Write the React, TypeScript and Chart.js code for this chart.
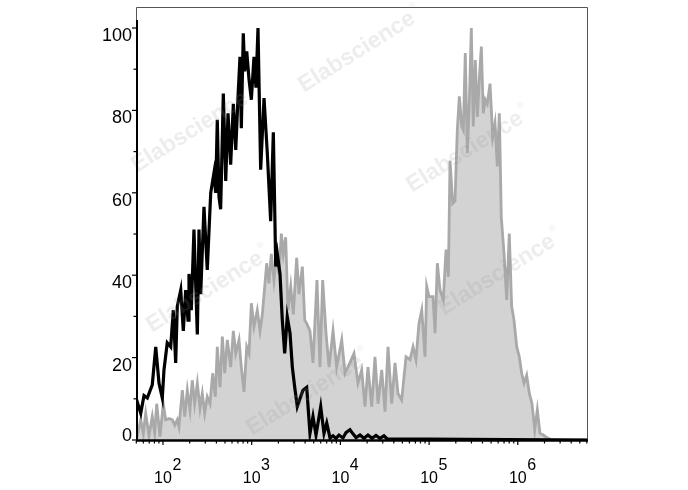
import React, { useEffect, useRef } from "react";
import { Chart, registerables } from "chart.js";

Chart.register(...registerables);

// x positions are log10(fluorescence intensity)
const blackLogX = [
  1.692, 1.749, 1.786, 1.823, 1.879, 1.918, 1.955, 1.992, 2.011, 2.048,
  2.087, 2.116, 2.143, 2.161, 2.2, 2.229, 2.256, 2.282, 2.293, 2.319,
  2.349, 2.387, 2.406, 2.425, 2.462, 2.499, 2.538, 2.575, 2.594, 2.612,
  2.631, 2.65, 2.68, 2.707, 2.733, 2.763, 2.793, 2.82, 2.846, 2.868,
  2.883, 2.905, 2.921, 2.944, 2.97, 2.996, 3.026, 3.048, 3.071, 3.101,
  3.139, 3.176, 3.214, 3.244, 3.271, 3.289, 3.319, 3.345, 3.372, 3.401,
  3.432, 3.458, 3.485, 3.514, 3.552, 3.578, 3.62, 3.657, 3.691, 3.725,
  3.778, 3.815, 3.846, 3.883, 3.917, 3.95, 3.984, 4.029, 4.063, 4.108,
  4.142, 4.176, 4.221, 4.266, 4.311, 4.356, 4.401, 4.446, 4.491, 4.525,
  6.791,
];
const blackY = [
  10.5, 6.5, 10.8, 10.2, 13.4, 22.6, 13.8, 10.2, 17.0, 23.6,
  22.6, 31.5, 18.7, 32.4, 36.4, 26.5, 36.4, 29.1, 40.3, 31.5,
  51.1, 25.6, 51.1, 35.4, 56.6, 41.3, 60.0, 64.9, 60.0, 77.7,
  59.0, 56.0, 84.1, 62.9, 79.3, 66.8, 81.6, 70.4, 83.4, 93.0,
  75.7, 98.7, 89.5, 94.3, 87.5, 82.6, 93.0, 85.5, 100, 65.6,
  83.0, 69.6, 53.1, 74.7, 42.1, 45.2, 40.3, 29.1, 21.0, 29.9,
  25.9, 17.7, 12.8, 8.1, 10.5, 12.1, 12.8, 1.6, 5.7, 1.2,
  8.1, 1.6, 4.1, 0.5, 1.0, 0.4, 1.2, 0.5, 1.8, 2.5,
  1.5, 0.6, 1.2, 0.4, 1.2, 0.4, 1.1, 0.4, 1.0, 0.3,
  0,
];

const grayLogX = [
  1.71, 1.749, 1.778, 1.805, 1.842, 1.879, 1.906, 1.929, 1.966, 2.003,
  2.03, 2.068, 2.105, 2.132, 2.161, 2.18, 2.218, 2.245, 2.274, 2.304,
  2.33, 2.357, 2.387, 2.417, 2.443, 2.47, 2.499, 2.53, 2.56, 2.59,
  2.612, 2.643, 2.669, 2.696, 2.725, 2.763, 2.793, 2.82, 2.857, 2.883,
  2.913, 2.944, 2.97, 2.996, 3.026, 3.063, 3.094, 3.12, 3.147, 3.169,
  3.195, 3.221, 3.251, 3.282, 3.308, 3.334, 3.356, 3.383, 3.409, 3.44,
  3.469, 3.507, 3.533, 3.571, 3.598, 3.62, 3.657, 3.691, 3.736, 3.77,
  3.8, 3.838, 3.872, 3.917, 3.958, 4.015, 4.052, 4.086, 4.153, 4.198,
  4.24, 4.277, 4.311, 4.353, 4.39, 4.424, 4.466, 4.503, 4.537, 4.578,
  4.616, 4.649, 4.691, 4.74, 4.785, 4.819, 4.852, 4.886, 4.917, 4.954,
  4.973, 4.999, 5.044, 5.067, 5.093, 5.123, 5.16, 5.191, 5.217, 5.236,
  5.266, 5.292, 5.318, 5.341, 5.368, 5.386, 5.408, 5.431, 5.453, 5.476,
  5.498, 5.521, 5.544, 5.566, 5.589, 5.611, 5.634, 5.656, 5.687, 5.717,
  5.743, 5.769, 5.792, 5.814, 5.845, 5.875, 5.904, 5.931, 5.957, 5.988,
  6.017, 6.044, 6.07, 6.1, 6.13, 6.16, 6.191, 6.22, 6.25, 6.288,
  6.326, 6.382, 6.791,
];
const grayY = [
  0.8, 4.9, 1.6, 6.5, 1.0, 5.7, 1.7, 8.8, 0.8, 8.8,
  4.9, 5.2, 4.9, 3.6, 4.9, 3.2, 12.1, 5.7, 12.1, 7.3,
  14.5, 8.8, 13.8, 7.7, 11.3, 6.5, 10.5, 8.8, 16.2, 10.5,
  22.6, 12.8, 25.1, 16.2, 24.3, 17.7, 26.5, 21.0, 24.3, 17.7,
  11.7, 22.6, 21.0, 33.2, 27.5, 31.5, 26.5, 30.5, 37.3, 42.9,
  38.0, 45.2, 38.8, 45.2, 40.3, 50.1, 45.2, 49.2, 31.5, 37.3,
  30.5, 44.2, 35.4, 42.1, 29.1, 28.3, 26.5, 18.7, 38.8, 17.7,
  38.8, 25.9, 17.7, 26.5, 17.7, 24.3, 16.2, 17.7, 21.0, 13.8,
  17.0, 8.1, 17.7, 8.1, 20.2, 8.8, 17.0, 6.9, 22.6, 8.8,
  18.7, 11.3, 9.7, 20.2, 19.5, 22.6, 19.5, 28.3, 31.5, 20.2,
  37.3, 34.8, 34.8, 25.9, 42.9, 36.4, 34.0, 46.2, 39.6, 67.8,
  57.4, 58.0, 75.2, 83.4, 76.1, 75.2, 93.9, 69.6, 81.6, 100,
  76.1, 92.2, 78.4, 87.4, 95.5, 79.3, 82.6, 81.6, 86.5, 73.6,
  76.9, 66.4, 79.3, 54.1, 45.2, 34.0, 50.1, 32.4, 29.1, 22.6,
  20.2, 16.2, 13.8, 15.7, 11.3, 8.8, 2.5, 7.3, 1.6, 1.2,
  0.6, 0, 0,
];

const xMinLog = 1.6956;
const xMaxLog = 6.7915;
const yMax = 105.1;
const yMajorTicks = [0, 20, 40, 60, 80, 100];
const yMinorTicks = [10, 30, 50, 70, 90];
const xDecades = [2, 3, 4, 5, 6];

const FONT = '"Liberation Sans", Arial, Helvetica, sans-serif';

const framePlugin = {
  id: "frame",
  afterDraw(chart: any) {
    const { ctx, chartArea, scales } = chart;
    const { left, right, top, bottom } = chartArea;
    const xs = scales.x;
    const ys = scales.y;
    ctx.save();

    // watermark
    const marks = [
      [357, 52],
      [190, 132],
      [465, 152],
      [205, 292],
      [497, 275],
      [305, 395],
    ];
    ctx.fillStyle = "rgba(150,150,150,0.17)";
    for (const [cx, cy] of marks) {
      ctx.save();
      ctx.translate(cx, cy);
      ctx.rotate(-0.56);
      ctx.font = `bold 23px ${FONT}`;
      ctx.textAlign = "center";
      ctx.textBaseline = "middle";
      ctx.fillText("Elabscience", 0, 0);
      const w = ctx.measureText("Elabscience").width;
      ctx.font = `9px ${FONT}`;
      ctx.textAlign = "left";
      ctx.fillText("®", w / 2 + 2, -10);
      ctx.restore();
    }

    // thin frame (top and right)
    ctx.strokeStyle = "#555";
    ctx.lineWidth = 1;
    ctx.beginPath();
    ctx.moveTo(left + 0.5, top + 14);
    ctx.lineTo(left + 0.5, top + 0.5);
    ctx.lineTo(right - 0.5, top + 0.5);
    ctx.lineTo(right - 0.5, bottom);
    ctx.stroke();

    // black axes
    ctx.strokeStyle = "#000";
    ctx.lineWidth = 2;
    ctx.beginPath();
    ctx.moveTo(left + 1, top + 13);
    ctx.lineTo(left + 1, bottom + 1);
    ctx.stroke();
    ctx.lineWidth = 2.5;
    ctx.beginPath();
    ctx.moveTo(left, bottom + 0.5);
    ctx.lineTo(right, bottom + 0.5);
    ctx.stroke();

    // y ticks
    ctx.lineWidth = 1.2;
    for (const v of yMajorTicks) {
      const py = ys.getPixelForValue(v);
      ctx.beginPath();
      ctx.moveTo(left - 4, py);
      ctx.lineTo(left, py);
      ctx.stroke();
    }
    for (const v of yMinorTicks) {
      const py = ys.getPixelForValue(v);
      ctx.beginPath();
      ctx.moveTo(left - 2.5, py);
      ctx.lineTo(left, py);
      ctx.stroke();
    }
    ctx.fillStyle = "#000";
    ctx.font = `18px ${FONT}`;
    ctx.textAlign = "right";
    ctx.textBaseline = "alphabetic";
    for (const v of yMajorTicks) {
      const py = ys.getPixelForValue(v);
      const base = Math.min(py + 13, bottom + 1);
      ctx.fillText(String(v), left - 4, base);
    }

    // x ticks (major + minor log ticks)
    ctx.lineWidth = 1.2;
    for (let d = 1; d <= 6; d++) {
      for (let k = 1; k <= 9; k++) {
        const lv = d + Math.log10(k);
        if (lv < xMinLog || lv > xMaxLog) continue;
        const px = xs.getPixelForValue(lv);
        ctx.beginPath();
        ctx.moveTo(px, bottom + 1);
        ctx.lineTo(px, bottom + (k === 1 ? 5 : 3.5));
        ctx.stroke();
      }
    }
    for (const e of xDecades) {
      const px = xs.getPixelForValue(e);
      ctx.font = `16px ${FONT}`;
      ctx.textAlign = "center";
      ctx.fillText("10", px, 483);
      const w = ctx.measureText("10").width;
      ctx.textAlign = "left";
      ctx.fillText(String(e), px + w / 2 + 0.5, 470);
    }
    ctx.restore();
  },
};

export default function App() {
  const canvasRef = useRef<HTMLCanvasElement | null>(null);

  useEffect(() => {
    const canvas = canvasRef.current;
    if (!canvas) return;
    const chart = new Chart(canvas, {
      type: "line",
      data: {
        datasets: [
          {
            label: "isotype",
            data: blackLogX.map((x, i) => ({ x, y: blackY[i] })),
            borderColor: "#000000",
            borderWidth: 3.2,
            pointRadius: 0,
            tension: 0,
            fill: false,
            order: 1,
          },
          {
            label: "stained",
            data: grayLogX.map((x, i) => ({ x, y: grayY[i] })),
            borderColor: "#a9a9a9",
            backgroundColor: "#d3d3d3",
            borderWidth: 2.8,
            pointRadius: 0,
            tension: 0,
            fill: "origin",
            order: 2,
          },
        ],
      },
      options: {
        responsive: false,
        animation: false,
        layout: { padding: { left: 136, right: 100, top: 7, bottom: 50 } },
        plugins: {
          legend: { display: false },
          tooltip: { enabled: false },
        },
        scales: {
          x: { type: "linear", min: xMinLog, max: xMaxLog, display: false },
          y: { type: "linear", min: 0, max: yMax, display: false },
        },
      },
      plugins: [framePlugin],
    });
    return () => chart.destroy();
  }, []);

  return (
    <div style={{ position: "absolute", left: 0, top: 0, width: 688, height: 490, background: "#fff" }}>
      <canvas ref={canvasRef} width={688} height={490} style={{ display: "block" }} />
    </div>
  );
}
